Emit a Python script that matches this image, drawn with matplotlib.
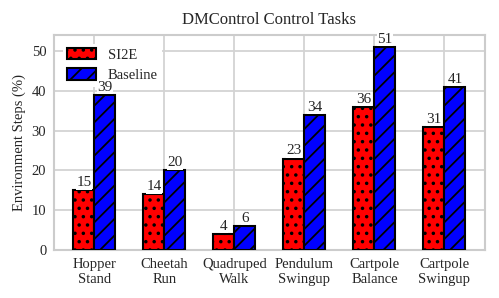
import numpy as np
import matplotlib.pyplot as plt
import seaborn as sns

tasks = ["Hopper\nStand", "Cheetah\nRun", "Quadruped\nWalk", "Pendulum\nSwingup",
         "Cartpole\nBalance", "Cartpole\nSwingup"]
si2e = [15, 14, 4, 23, 36, 31]
baseline = [39, 20, 6, 34, 51, 41]

sns.set_style("whitegrid")
plt.rcParams['font.family'] = ['Liberation Serif', 'DejaVu Serif']
plt.rcParams['hatch.linewidth'] = 1.3

fig = plt.figure(figsize=(4.99, 2.98), dpi=100)
ax = fig.add_axes([0.108, 0.161, 0.864, 0.721])

x = np.arange(len(tasks))
w = 0.3
b1 = ax.bar(x - w/2, si2e, w, color="red", edgecolor="black", linewidth=1.5,
            hatch="..", label="SI2E", zorder=3)
b2 = ax.bar(x + w/2, baseline, w, color="blue", edgecolor="black", linewidth=1.5,
            hatch="//", label="Baseline", zorder=3)

for bars in (b1, b2):
    for r in bars:
        h = r.get_height()
        ax.annotate(str(int(h)), (r.get_x() + r.get_width()/2, h), xytext=(0, 0.8),
                    textcoords="offset points", ha="center", va="bottom",
                    fontsize=11, zorder=6,
                    bbox=dict(facecolor="white", edgecolor="none", pad=0.2))

ax.set_xticks(x)
ax.set_xticklabels(tasks, fontsize=10.5)
ax.set_xlim(-0.58, 5.58)
ax.set_ylim(0, 54)
ax.set_yticks([0, 10, 20, 30, 40, 50])
ax.tick_params(axis="y", labelsize=10.5, pad=2)
ax.tick_params(axis="x", pad=2)
ax.set_ylabel("Environment Steps (%)", fontsize=10.5)
ax.set_title("DMControl Control Tasks", fontsize=12, pad=8)
for s in ax.spines.values():
    s.set_color("#cccccc")
    s.set_linewidth(1.5)
ax.grid(color="#d3d3d3", linewidth=1.3)

leg = ax.legend(loc="upper left", fontsize=10.5, frameon=True, edgecolor="none",
                framealpha=1, handlelength=2.0, handleheight=0.8,
                labelspacing=0.45, borderaxespad=0.6, borderpad=0.3)
leg.set_zorder(5)

fig.savefig("out.png", dpi=100)
